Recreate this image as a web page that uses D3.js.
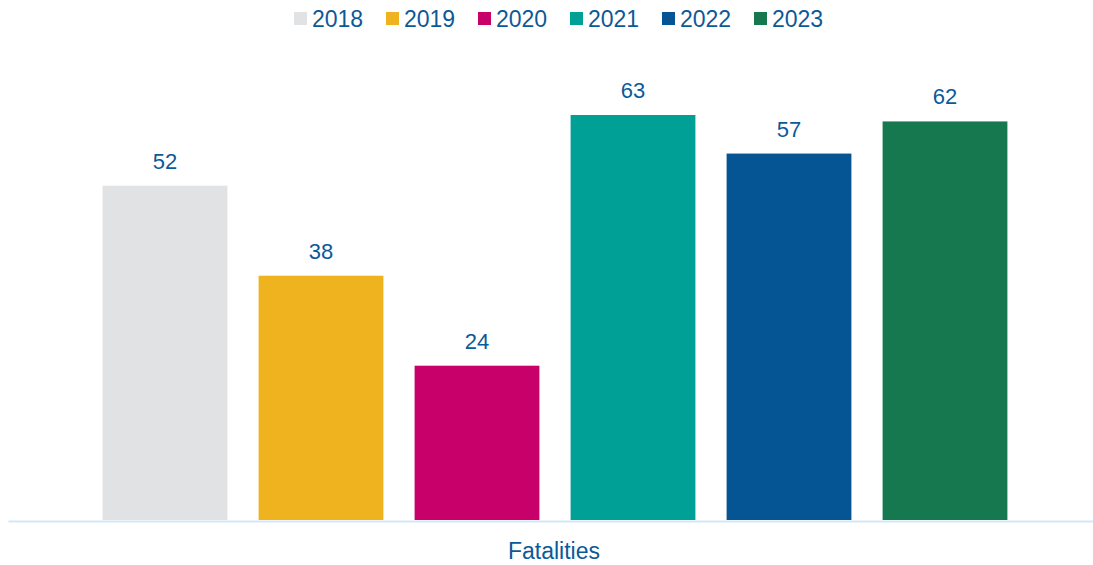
<!DOCTYPE html>
<html>
<head>
<meta charset="utf-8">
<script src="https://cdn.jsdelivr.net/npm/d3@7"></script>
<style>
  body { margin: 0; background: #fff; }
  text { font-family: "Liberation Sans", Arial, sans-serif; }
</style>
</head>
<body>
<div id="chart"></div>
<script>
// chart data
var years = ["2018", "2019", "2020", "2021", "2022", "2023"];
var fatalities = [52, 38, 24, 63, 57, 62];
var barColors = ["#e1e2e3", "#f0b320", "#c8006a", "#00a096", "#055494", "#15784f"];
var categoryLabel = "Fatalities";

var width = 1093, height = 565;
var baseline = 520;
var textColor = "#0b5a98";

var svg = d3.select("#chart")
  .append("svg")
    .attr("width", width)
    .attr("height", height);

// scales
var x = d3.scaleBand()
  .domain(years)
  .range([87, 1023])
  .paddingInner(0.2)
  .paddingOuter(0.1);

var y = d3.scaleLinear()
  .domain([0, 63])
  .range([baseline, 115]);

var color = d3.scaleOrdinal()
  .domain(years)
  .range(barColors);

var data = years.map(function(d, i) { return {year: d, value: fatalities[i]}; });

// bars
svg.append("g")
  .selectAll("rect")
  .data(data)
  .enter()
  .append("rect")
    .attr("x", function(d) { return x(d.year); })
    .attr("y", function(d) { return y(d.value); })
    .attr("width", x.bandwidth())
    .attr("height", function(d) { return baseline - y(d.value); })
    .style("fill", function(d) { return color(d.year); });

// value labels
svg.append("g")
  .selectAll("text")
  .data(data)
  .enter()
  .append("text")
    .attr("x", function(d) { return x(d.year) + x.bandwidth() / 2; })
    .attr("y", function(d) { return y(d.value) - 17; })
    .attr("text-anchor", "middle")
    .style("font-size", "22px")
    .style("fill", textColor)
    .text(function(d) { return d.value; });

// baseline axis
var xAxis = d3.axisBottom(d3.scaleLinear().range([8, width])).ticks(0).tickSize(0);
svg.append("g")
  .attr("transform", "translate(0," + (baseline + 1) + ")")
  .call(xAxis)
  .call(function(g) {
    g.select(".domain").attr("stroke", "#d3e8f8").attr("stroke-width", 2);
  });

// category label
svg.append("text")
  .attr("x", 554)
  .attr("y", 559)
  .attr("text-anchor", "middle")
  .style("font-size", "23px")
  .style("fill", textColor)
  .text(categoryLabel);

// legend
var legend = svg.append("g")
  .selectAll("g")
  .data(years)
  .enter()
  .append("g")
    .attr("transform", function(d, i) { return "translate(" + (294 + i * 92) + ",0)"; });

legend.append("rect")
  .attr("x", 0)
  .attr("y", 12)
  .attr("width", 13)
  .attr("height", 13)
  .style("fill", function(d) { return color(d); });

legend.append("text")
  .attr("x", 18)
  .attr("y", 27)
  .style("font-size", "23px")
  .style("fill", textColor)
  .text(function(d) { return d; });
</script>
</body>
</html>
